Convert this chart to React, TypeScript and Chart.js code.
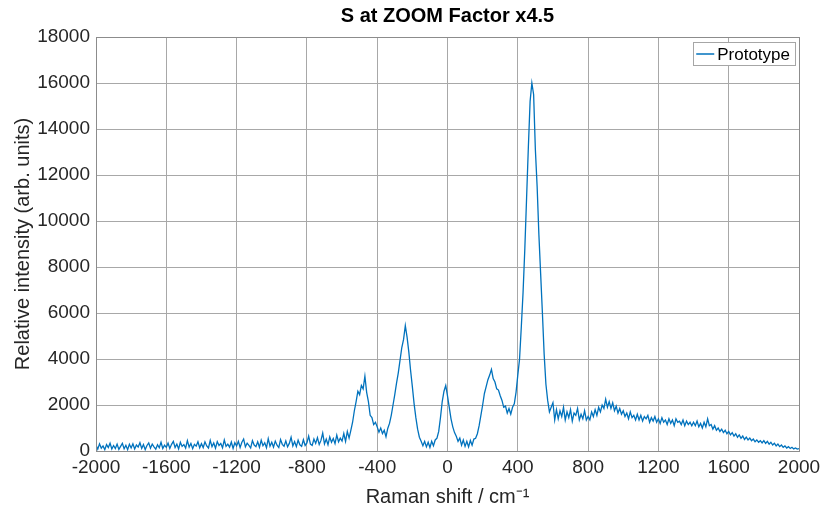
import React, { useEffect, useRef } from "react";
import { Chart, registerables } from "chart.js";

Chart.register(...registerables);

const TITLE = "S at ZOOM Factor x4.5";
const X_LABEL = "Raman shift / cm⁻¹";
const Y_LABEL = "Relative intensity (arb. units)";
const SERIES = "Prototype";

const SHIFT_START = -2000;
const SHIFT_STEP = 10;

// Relative intensity every 10 cm^-1, from -2000 to 2000
const intensity = [
  // -2000 .. -1810
  260, 80, 310, 120, 220, 60, 280, 150, 340, 90, 240, 110, 300, 70, 200, 330, 100, 250, 60, 290,
  // -1800 .. -1610
  130, 310, 90, 260, 170, 360, 110, 280, 60, 240, 350, 120, 300, 180, 80, 270, 140, 380, 110, 250,
  // -1600 .. -1410
  160, 340, 110, 290, 420, 150, 300, 90, 380, 200, 280, 130, 450, 170, 330, 100, 290, 210, 400, 140,
  // -1400 .. -1210
  320, 150, 400, 220, 130, 460, 190, 350, 120, 410, 240, 330, 140, 480, 200, 300, 170, 390, 110, 360,
  // -1200 .. -1010
  220, 420, 150, 380, 520, 180, 340, 240, 130, 450, 260, 190, 400, 160, 470, 230, 360, 140, 540, 210,
  // -1000 .. -810
  380, 170, 430, 250, 150, 500, 290, 210, 440, 180, 330, 600, 220, 410, 190, 470, 270, 200, 490, 240,
  // -800 .. -610
  350, 650, 300, 240, 520, 330, 580, 280, 460, 780, 310, 520, 270, 610, 380, 540, 320, 690, 400, 560,
  // -600 .. -410
  430, 760, 420, 850, 560, 900, 1250, 1750, 2150, 2600, 2450, 2850, 2700, 3250, 2550, 2150, 1550, 1450, 1150, 1250,
  // -400 .. -210
  1050, 820, 1000, 760, 900, 620, 980, 1200, 1550, 2000, 2450, 2950, 3400, 3950, 4500, 4850, 5450, 4950, 4300, 3500,
  // -200 .. -10
  2800, 2050, 1450, 950, 600, 420, 230, 420, 180, 380, 150, 420, 230, 480, 560, 850, 1450, 2150, 2600, 2850,
  // 0 .. 190
  2400, 1900, 1400, 1050, 800, 640, 420, 560, 250, 480, 200, 420, 180, 460, 250, 520, 550, 750, 1100, 1550,
  // 200 .. 390
  2000, 2500, 2800, 3100, 3300, 3550, 3150, 3000, 2700, 2650, 2400, 2200, 1900, 1950, 1650, 1850, 1600, 1900, 2050, 2550,
  // 400 .. 590
  3300, 4000, 5400, 6900, 8800, 11000, 13200, 15200, 16000, 15500, 13100, 11500, 9400, 7700, 6000, 4200, 2900, 2200, 1700, 1900,
  // 600 .. 790
  2100, 1350, 1800, 1400, 1750, 1500, 1900, 1350, 1700, 1450, 1800, 1300, 1650, 1550, 1850, 1350, 1600, 1400, 1750, 1350,
  // 800 .. 990
  1500, 1350, 1700, 1500, 1800, 1550, 1900, 1700, 2000, 1850, 2250, 1900, 2150, 1850, 2100, 1750, 1950, 1650, 1850, 1600,
  // 1000 .. 1190
  1750, 1500, 1650, 1400, 1700, 1450, 1550, 1350, 1600, 1350, 1550, 1300, 1500, 1400, 1550, 1250, 1450, 1300, 1500, 1250,
  // 1200 .. 1390
  1400, 1200, 1450, 1250, 1350, 1150, 1400, 1200, 1350, 1100, 1400, 1250, 1300, 1150, 1350, 1100, 1300, 1150, 1250, 1100,
  // 1400 .. 1590
  1250, 1100, 1300, 1050, 1200, 1000, 1250, 1050, 1400, 1100, 1150, 950, 1100, 900, 1000, 850, 950, 800, 900, 750,
  // 1600 .. 1790
  850, 700, 800, 650, 750, 600, 700, 550, 650, 500, 600, 480, 560, 450, 520, 400, 480, 380, 450, 350,
  // 1800 .. 1990
  450, 330, 420, 300, 380, 260, 340, 220, 300, 190, 260, 160, 220, 130, 190, 110, 160, 90, 130, 80,
  // 2000
  100,
];

const ramanShift = intensity.map((_, i) => SHIFT_START + i * SHIFT_STEP);

const xTicks = [-2000, -1600, -1200, -800, -400, 0, 400, 800, 1200, 1600, 2000];
const yTicks = [0, 2000, 4000, 6000, 8000, 10000, 12000, 14000, 16000, 18000];

const LINE_COLOR = "#0072BD";
const TEXT_COLOR = "#262626";
const FONT = "'Liberation Sans', Arial, Helvetica, sans-serif";

export default function App() {
  const ref = useRef<HTMLCanvasElement>(null);

  useEffect(() => {
    document.body.style.margin = "0";
    if (!ref.current) return;

    const framePlugin = {
      id: "framePlugin",
      afterDraw(chart: any) {
        const { ctx, chartArea } = chart;
        ctx.save();
        ctx.strokeStyle = "#8c8c8c";
        ctx.lineWidth = 1;
        ctx.strokeRect(
          Math.round(chartArea.left) + 0.5,
          Math.round(chartArea.top) + 0.5,
          Math.round(chartArea.right - chartArea.left),
          Math.round(chartArea.bottom - chartArea.top)
        );
        // legend box in the top-right corner of the plot area
        const ds = chart.data.datasets[0];
        const fontSize = 17;
        ctx.font = `${fontSize}px ${FONT}`;
        const textW = ctx.measureText(ds.label).width;
        const right = chartArea.right - 4;
        const top = chartArea.top + 5;
        const h = 23;
        const lineW = 18;
        const w = 3 + lineW + 3 + textW + 5;
        const left = right - w;
        ctx.fillStyle = "#ffffff";
        ctx.fillRect(left, top, w, h);
        ctx.strokeStyle = "#a6a6a6";
        ctx.strokeRect(Math.round(left) + 0.5, Math.round(top) + 0.5, Math.round(w), h);
        const cy = top + h / 2 + 0.5;
        ctx.strokeStyle = ds.borderColor;
        ctx.lineWidth = 1.5;
        ctx.beginPath();
        ctx.moveTo(left + 3, cy);
        ctx.lineTo(left + 3 + lineW, cy);
        ctx.stroke();
        ctx.fillStyle = "#000";
        ctx.textBaseline = "middle";
        ctx.textAlign = "left";
        ctx.fillText(ds.label, left + 3 + lineW + 3, cy + 1);
        ctx.restore();
      },
    };

    const chart = new Chart(ref.current, {
      type: "line",
      data: {
        datasets: [
          {
            label: SERIES,
            data: ramanShift.map((x, i) => ({ x, y: intensity[i] })),
            borderColor: LINE_COLOR,
            backgroundColor: LINE_COLOR,
            borderWidth: 1.3,
            pointRadius: 0,
            tension: 0,
          },
        ],
      },
      options: {
        animation: false,
        responsive: true,
        maintainAspectRatio: false,
        layout: { padding: { left: 0, right: 28, top: 0, bottom: 0 } },
        plugins: {
          title: {
            display: true,
            text: TITLE,
            color: "#000",
            fullSize: false,
            font: { family: FONT, size: 20, weight: "bold" },
            padding: { top: 4, bottom: 9 },
          },
          legend: { display: false },
          tooltip: { enabled: false },
        },
        scales: {
          x: {
            type: "linear",
            min: -2000,
            max: 2000,
            afterBuildTicks: (s: any) => {
              s.ticks = xTicks.map((v) => ({ value: v }));
            },
            afterFit: (s: any) => {
              s.height = 59;
            },
            ticks: {
              color: TEXT_COLOR,
              font: { family: FONT, size: 19 },
              padding: 5,
              maxRotation: 0,
              autoSkip: false,
              callback: (v: any) => String(v),
            },
            grid: { color: "#a8a8a8", drawTicks: false },
            border: { display: true, color: "#8c8c8c" },
            title: {
              display: true,
              text: X_LABEL,
              color: TEXT_COLOR,
              font: { family: FONT, size: 20 },
              padding: { top: 0, bottom: 1 },
            },
          },
          y: {
            type: "linear",
            min: 0,
            max: 18000,
            afterBuildTicks: (s: any) => {
              s.ticks = yTicks.map((v) => ({ value: v }));
            },
            afterFit: (s: any) => {
              s.width = 96;
            },
            ticks: {
              color: TEXT_COLOR,
              font: { family: FONT, size: 19 },
              padding: 6,
              autoSkip: false,
              callback: (v: any) => String(v),
            },
            grid: { color: "#a8a8a8", drawTicks: false },
            border: { display: true, color: "#8c8c8c" },
            title: {
              display: true,
              text: Y_LABEL,
              color: TEXT_COLOR,
              font: { family: FONT, size: 20 },
              padding: { top: 11, bottom: 0 },
            },
          },
        },
      },
      plugins: [framePlugin],
    });

    return () => chart.destroy();
  }, []);

  return (
    <div style={{ width: 827, height: 510, position: "relative" }}>
      <canvas ref={ref} />
    </div>
  );
}
